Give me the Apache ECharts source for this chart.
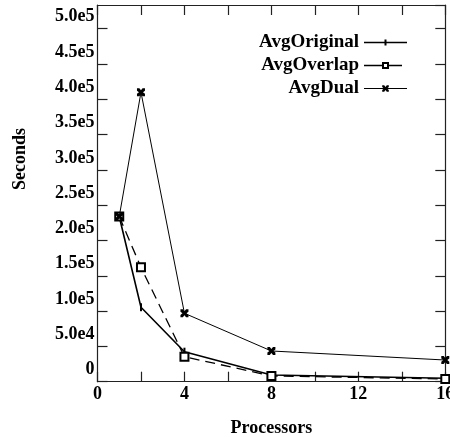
<!DOCTYPE html>
<html>
<head>
<meta charset="utf-8">
<script src="https://cdn.jsdelivr.net/npm/echarts@6/dist/echarts.min.js"></script>
<style>
html,body{margin:0;padding:0;background:#fff;}
#chart{width:450px;height:437px;}
</style>
</head>
<body>
<div id="chart"></div>
<script>
const processors = [1, 2, 4, 8, 16];
const avgOriginal = [234000, 105500, 42500, 9500, 4800];
const avgOverlap = [234000, 162000, 35400, 8200, 3800];
const avgDual = [234000, 410000, 96900, 43500, 30700];
const seriesNames = ['AvgOriginal', 'AvgOverlap', 'AvgDual'];
const yTickValues = [0, 50000, 100000, 150000, 200000, 250000, 300000, 350000, 400000, 450000, 500000];
const yTickLabels = ['0', '5.0e4', '1.0e5', '1.5e5', '2.0e5', '2.5e5', '3.0e5', '3.5e5', '4.0e5', '4.5e5', '5.0e5'];
const xTickValues = [0, 4, 8, 12, 16];
const xTickLabels = ['0', '4', '8', '12', '16'];
const xAxisTitle = 'Processors';
const yAxisTitle = 'Seconds';

const FONT = '"Liberation Serif", "DejaVu Serif", serif';
const YMAX = 533600;

function pairs(ys) { return processors.map((p, i) => [p, ys[i]]); }

// legend icons: line sample with marker, drawn as filled paths in a 43x8 box
const ICON_ORIGINAL = 'path://M0,3.2 L43,3.2 L43,4.8 L0,4.8 Z M20.5,1 L22.5,1 L22.5,7 L20.5,7 Z M0,0 L0.01,0 L0,0.01 Z M43,8 L42.99,8 L43,7.99 Z';
const ICON_OVERLAP = 'path://M0,3.3 L18,3.3 L18,4.7 L0,4.7 Z M25,3.3 L38,3.3 L38,4.7 L25,4.7 Z M18,0.5 L25,0.5 L25,2.5 L18,2.5 Z M18,5.5 L25,5.5 L25,7.5 L18,7.5 Z M18,0.5 L20,0.5 L20,7.5 L18,7.5 Z M23,0.5 L25,0.5 L25,7.5 L23,7.5 Z M0,0 L0.01,0 L0,0.01 Z M43,8 L42.99,8 L43,7.99 Z';
const ICON_DUAL = 'path://M0,3.4 L43,3.4 L43,4.6 L0,4.6 Z M18.2,0.8 L20.2,0.8 L21.5,2.6 L22.8,0.8 L24.8,0.8 L24.8,2.4 L23,4 L24.8,5.6 L24.8,7.2 L22.8,7.2 L21.5,5.4 L20.2,7.2 L18.2,7.2 L18.2,5.6 L20,4 L18.2,2.4 Z M0,0 L0.01,0 L0,0.01 Z M43,8 L42.99,8 L43,7.99 Z';

const chart = echarts.init(document.getElementById('chart'), null, {renderer: 'canvas'});

const axisLineStyle = {show: true, onZero: false, lineStyle: {color: '#222', width: 1.2}};
const tickStyle = {show: true, inside: true, length: 10, lineStyle: {color: '#222', width: 1.2}};

chart.setOption({
  animation: false,
  backgroundColor: '#fff',
  grid: {left: 97.5, right: 4.7, top: 5, bottom: 55.3, containLabel: false, outerBoundsMode: 'none'},
  legend: {
    orient: 'vertical',
    align: 'right',
    right: 38,
    top: 28,
    itemGap: 4,
    itemWidth: 43,
    itemHeight: 8,
    symbolKeepAspect: false,
    data: [
      {name: seriesNames[0], icon: ICON_ORIGINAL},
      {name: seriesNames[1], icon: ICON_OVERLAP},
      {name: seriesNames[2], icon: ICON_DUAL}
    ],
    itemStyle: {color: '#000', borderWidth: 0},
    lineStyle: {width: 0},
    textStyle: {fontFamily: FONT, fontWeight: 'bold', fontSize: 19, color: '#000', lineHeight: 19}
  },
  xAxis: [{
    type: 'value', min: 0, max: 16, interval: 2, position: 'bottom',
    axisLine: axisLineStyle, axisTick: tickStyle, splitLine: {show: false},
    axisLabel: {
      margin: 4, fontFamily: FONT, fontWeight: 'bold', fontSize: 18, color: '#000',
      formatter: v => { const i = xTickValues.indexOf(v); return i >= 0 ? xTickLabels[i] : ''; }
    },
    name: xAxisTitle, nameLocation: 'middle', nameGap: 38,
    nameTextStyle: {fontFamily: FONT, fontWeight: 'bold', fontSize: 18, color: '#000'}
  }, {
    type: 'value', min: 0, max: 16, interval: 2, position: 'top',
    axisLine: axisLineStyle, axisTick: tickStyle, splitLine: {show: false},
    axisLabel: {show: false}
  }],
  yAxis: [{
    type: 'value', min: 0, max: YMAX, interval: 50000, position: 'left',
    axisLine: axisLineStyle, axisTick: tickStyle, splitLine: {show: false},
    axisLabel: {
      margin: 3, fontFamily: FONT, fontWeight: 'bold', fontSize: 18, color: '#000',
      verticalAlign: 'bottom', lineHeight: 18, padding: [0, 0, 3, 0], showMaxLabel: false,
      formatter: v => { const i = yTickValues.indexOf(v); return i >= 0 ? yTickLabels[i] : ''; }
    }
  }, {
    type: 'value', min: 0, max: YMAX, interval: 50000, position: 'right',
    axisLine: axisLineStyle, axisTick: tickStyle, splitLine: {show: false},
    axisLabel: {show: false}
  }],
  graphic: [{
    type: 'text', x: 20, y: 159, rotation: Math.PI / 2,
    style: {text: yAxisTitle, fontFamily: FONT, fontWeight: 'bold', fontSize: 18, fill: '#000',
            align: 'center', verticalAlign: 'middle'}
  }],
  series: [{
    name: seriesNames[0], type: 'line', data: pairs(avgOriginal),
    symbol: 'rect', symbolSize: [2, 8], showSymbol: true,
    lineStyle: {color: '#000', width: 1.6},
    itemStyle: {color: '#000'}, z: 3
  }, {
    name: seriesNames[1], type: 'line', data: pairs(avgOverlap),
    symbol: 'rect', symbolSize: 8,
    lineStyle: {color: '#000', width: 1.3, type: [10, 6]},
    itemStyle: {color: '#fff', borderColor: '#000', borderWidth: 2}, z: 4
  }, {
    name: seriesNames[2], type: 'line', data: pairs(avgDual),
    symbol: 'path://M0,0 L3,0 L5,2.5 L7,0 L10,0 L10,3 L7.5,5 L10,7 L10,10 L7,10 L5,7.5 L3,10 L0,10 L0,7 L2.5,5 L0,3 Z',
    symbolSize: 8,
    lineStyle: {color: '#000', width: 1},
    itemStyle: {color: '#000'}, z: 5
  }]
});
</script>
</body>
</html>
